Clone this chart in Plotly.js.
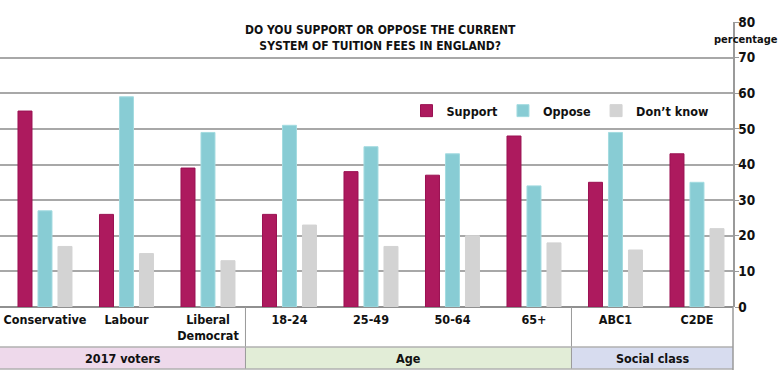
<!DOCTYPE html>
<html>
<head>
<meta charset="utf-8">
<script src="https://cdn.plot.ly/plotly-3.0.1.min.js"></script>
<style>html,body{margin:0;padding:0;background:#fff;}#chart{width:780px;height:370px;}</style>
</head>
<body>
<div id="chart"></div>
<script>
// ---- data ----
var categories = ['Conservative', 'Labour', 'Liberal Democrat', '18-24', '25-49', '50-64', '65+', 'ABC1', 'C2DE'];
var tickLabels = ['Conservative', 'Labour', 'Liberal<br>Democrat', '18-24', '25-49', '50-64', '65+', 'ABC1', 'C2DE'];
var seriesNames = ['Support', 'Oppose', 'Don\u2019t know'];
var support = [55, 26, 39, 26, 38, 37, 48, 35, 43];
var oppose = [27, 59, 49, 51, 45, 43, 34, 49, 35];
var dontKnow = [17, 15, 13, 23, 17, 20, 18, 16, 22];
var groupNames = ['2017 voters', 'Age', 'Social class'];
var groupSizes = [3, 4, 2];
var yTicks = [0, 10, 20, 30, 40, 50, 60, 70, 80];
var titleText = 'DO YOU SUPPORT OR OPPOSE THE CURRENT<br>SYSTEM OF TUITION FEES IN ENGLAND?';
var unitText = 'percentage';

// ---- styles ----
var FONT = '"DejaVu Sans Condensed", "DejaVu Sans", sans-serif';
var colors = ['#ad1a5e', '#88ccd4', '#d3d3d3'];
var edges = ['#9a1152', '#a3dbe0', '#d3d3d3'];
var groupFills = ['#eed9eb', '#e2edd7', '#d7dcef'];
var xRange = [-0.552, 8.442];
var sepShift = -0.04; // small visual offset of group dividers

var seriesValues = [support, oppose, dontKnow];
var traces = seriesValues.map(function (vals, i) {
  return {
    type: 'bar',
    name: seriesNames[i],
    x: categories,
    y: vals,
    marker: {color: colors[i], line: {color: edges[i], width: 1}},
    hoverinfo: 'x+y+name'
  };
});

var shapes = [];
var annotations = [];
var bandTop = -40 / 285, bandBot = -62 / 285;
var start = 0;
groupSizes.forEach(function (n, gi) {
  var x0 = (gi === 0) ? xRange[0] : start - 0.5 + sepShift;
  var x1 = (gi === groupSizes.length - 1) ? xRange[1] : start + n - 0.5 + sepShift;
  shapes.push({type: 'rect', xref: 'x', yref: 'paper', x0: x0, x1: x1, y0: bandBot, y1: bandTop,
    fillcolor: groupFills[gi], line: {width: 0}, layer: 'below'});
  annotations.push({xref: 'x', yref: 'paper', x: (x0 + x1) / 2, y: (bandTop + bandBot) / 2,
    text: groupNames[gi], showarrow: false, xanchor: 'center', yanchor: 'middle',
    font: {family: FONT, size: 12.5, color: '#111', weight: 700}});
  if (gi > 0) {
    shapes.push({type: 'line', xref: 'x', yref: 'paper', x0: x0, x1: x0, y0: 0, y1: bandBot,
      line: {color: '#9a9a9a', width: 1}});
  }
  start += n;
});
// band borders
shapes.push({type: 'line', xref: 'paper', yref: 'paper', x0: 0, x1: 1, y0: bandTop, y1: bandTop, line: {color: '#b0b0b0', width: 1.5}});
shapes.push({type: 'line', xref: 'paper', yref: 'paper', x0: 0, x1: 1, y0: bandBot, y1: bandBot, line: {color: '#b0b0b0', width: 1.5}});
// right axis line extended to bottom
shapes.push({type: 'line', xref: 'paper', yref: 'paper', x0: 1, x1: 1, y0: 0, y1: -63 / 285, line: {color: '#9a9a9a', width: 1.5}});

annotations.push({xref: 'paper', yref: 'paper', x: 380 / 733, y: (307 - 38.5) / 285, text: titleText,
  showarrow: false, xanchor: 'center', yanchor: 'middle', align: 'center',
  font: {family: FONT, size: 12, color: '#111', weight: 700}});
annotations.push({xref: 'paper', yref: 'paper', x: 746 / 733, y: (307 - 40) / 285, text: unitText,
  showarrow: false, xanchor: 'center', yanchor: 'middle',
  font: {family: FONT, size: 11, color: '#111', weight: 700}});

var layout = {
  width: 780, height: 370,
  margin: {l: 0, r: 47, t: 22, b: 63, pad: 0},
  paper_bgcolor: '#ffffff', plot_bgcolor: '#ffffff',
  barmode: 'group', bargap: 0.264, bargroupgap: 0.3,
  showlegend: true,
  legend: {orientation: 'h', x: 560 / 733, y: (307 - 111) / 285, xanchor: 'center', yanchor: 'middle',
    bgcolor: 'rgba(0,0,0,0)', itemclick: false,
    font: {family: FONT, size: 12.5, color: '#111', weight: 700}},
  xaxis: {type: 'category', range: xRange, tickvals: categories, ticktext: tickLabels,
    showgrid: false, zeroline: false, showline: false, ticks: '',
    ticklabelstandoff: 3,
    tickfont: {family: FONT, size: 12.5, color: '#111', weight: 700}, fixedrange: true},
  yaxis: {side: 'right', range: [0, 80], tickvals: yTicks, showgrid: true, gridcolor: '#a8a8a8', gridwidth: 2,
    zeroline: true, zerolinecolor: '#909090', zerolinewidth: 2,
    showline: true, linecolor: '#9a9a9a', linewidth: 1.5, ticks: 'outside', ticklen: 4, tickcolor: '#9a9a9a',
    ticklabelstandoff: -3,
    tickfont: {family: FONT, size: 13.5, color: '#111', weight: 700}, fixedrange: true},
  shapes: shapes,
  annotations: annotations
};

Plotly.newPlot('chart', traces, layout, {displayModeBar: false, staticPlot: true});
</script>
</body>
</html>
